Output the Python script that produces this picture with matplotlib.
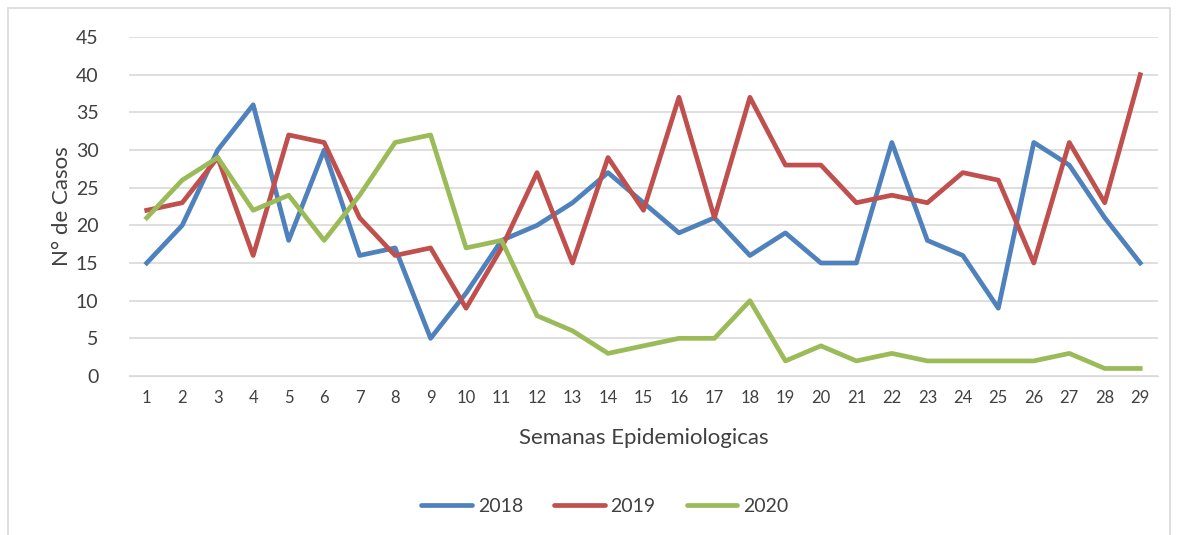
import matplotlib
matplotlib.use("Agg")
import matplotlib.pyplot as plt
from matplotlib.patches import Rectangle

# epidemiological weeks and cases per year
semanas = list(range(1, 30))
casos_2018 = [15, 20, 30, 36, 18, 30, 16, 17, 5, 11, 18, 20, 23, 27, 23,
              19, 21, 16, 19, 15, 15, 31, 18, 16, 9, 31, 28, 21, 15]
casos_2019 = [22, 23, 29, 16, 32, 31, 21, 16, 17, 9, 17, 27, 15, 29, 22,
              37, 21, 37, 28, 28, 23, 24, 23, 27, 26, 15, 31, 23, 40]
casos_2020 = [21, 26, 29, 22, 24, 18, 24, 31, 32, 17, 18, 8, 6, 3, 4,
              5, 5, 10, 2, 4, 2, 3, 2, 2, 2, 2, 3, 1, 1]
y_ticks = list(range(0, 50, 5))

plt.rcParams["font.family"] = ["Lato", "DejaVu Sans"]

fig = plt.figure(figsize=(11.78, 5.35), dpi=100)
ax = fig.add_axes([0.1095, 0.2972, 0.8735, 0.6336])

# chart frame
fig.patches.append(Rectangle((8 / 1178, -0.01), 1162 / 1178, 1 - 8 / 535 + 0.01,
                             transform=fig.transFigure, fill=False,
                             edgecolor="#d9d9d9", linewidth=1.2))

lw = 3.4
ax.plot(semanas, casos_2018, color="#4f81bd", linewidth=lw, label="2018")
ax.plot(semanas, casos_2019, color="#c0504d", linewidth=lw, label="2019")
ax.plot(semanas, casos_2020, color="#9bbb59", linewidth=lw, label="2020")

ax.set_xlim(0.5, 29.5)
ax.set_ylim(0, 45)
ax.set_yticks(y_ticks)
ax.set_xticks(semanas)
ax.yaxis.grid(True, color="#d9d9d9", linewidth=1.2)
ax.set_axisbelow(True)
for s in ax.spines.values():
    s.set_visible(False)
ax.spines["bottom"].set_visible(True)
ax.spines["bottom"].set_color("#d9d9d9")
ax.tick_params(length=0, colors="#404040")
ax.tick_params(axis="y", labelsize=14, pad=22)
ax.tick_params(axis="x", labelsize=12, pad=10)

ax.set_xlabel("Semanas Epidemiologicas", fontsize=16, color="#404040", labelpad=16)
ax.set_ylabel("N° de Casos", fontsize=16, color="#404040", labelpad=3)

leg = ax.legend(loc="center", bbox_to_anchor=(605 / 1178, 29 / 535),
                bbox_transform=fig.transFigure, ncol=3, frameon=False,
                fontsize=14, handlelength=2.6, handletextpad=0.3,
                columnspacing=1.6, labelcolor="#404040")
for h in leg.get_lines():
    h.set_solid_capstyle("round")

plt.savefig("out.png", dpi=100)
plt.close()
